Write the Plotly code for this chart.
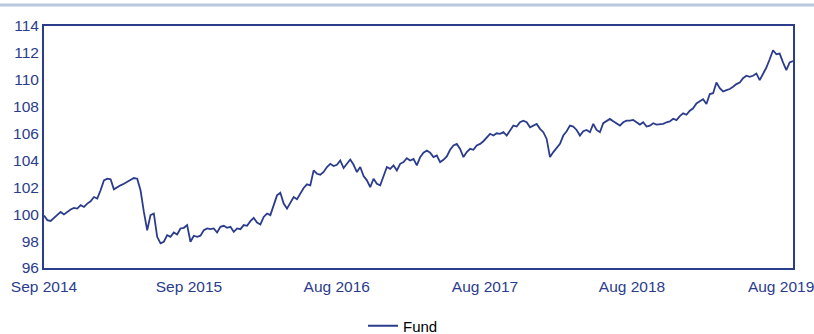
import pandas as pd
import plotly.graph_objects as go

# Fund value series (indexed, start ~100), sampled evenly from Sep 2014 to Aug 2019
fund_values = [
    # Sep 2014 - Jun 2015
    99.90, 99.56, 99.50, 99.73, 99.93, 100.17, 99.98, 100.17, 100.35, 100.47,
    100.42, 100.67, 100.54, 100.79, 100.96, 101.28, 101.16, 101.78, 102.52, 102.64,
    102.60, 101.85, 102.02, 102.15, 102.27, 102.40, 102.52, 102.69, 102.64, 101.78,
    100.17, 98.81, 99.93, 100.05, 98.32, 97.83, 97.95,
    # Jun 2015 - Jun 2016
    98.44, 98.32, 98.64, 98.49, 98.94, 98.99, 99.19, 97.95, 98.40, 98.32,
    98.40, 98.81, 98.94, 98.89, 98.94, 98.64, 99.06, 99.14, 98.99, 99.06,
    98.69, 98.94, 98.89, 99.19, 99.14, 99.48, 99.73, 99.38, 99.24, 99.80,
    100.05, 99.93, 100.67, 101.40, 101.60, 100.79, 100.42, 100.91,
    # Jun 2016 - Jun 2017
    101.28, 101.12, 101.53, 101.95, 102.22, 102.15, 103.26, 103.01, 102.94, 103.14,
    103.51, 103.75, 103.58, 103.68, 104.00, 103.43, 103.75, 104.07, 103.68, 103.14,
    103.51, 102.84, 102.52, 102.02, 102.64, 102.27, 102.15, 102.77, 103.51, 103.38,
    103.63, 103.26, 103.75, 103.88, 104.17, 104.00, 104.12, 103.63,
    # Jun 2017 - Jun 2018
    104.25, 104.57, 104.74, 104.57, 104.25, 104.37, 103.88, 104.05, 104.30, 104.79,
    105.11, 105.23, 104.86, 104.25, 104.62, 104.86, 104.79, 105.11, 105.23, 105.43,
    105.73, 105.98, 105.85, 106.02, 105.98, 106.10, 105.85, 106.27, 106.59, 106.52,
    106.84, 106.96, 106.84, 106.47, 106.59, 106.72, 106.35,
    # Feb 2018 - Feb 2019
    106.10, 105.60, 104.25, 104.62, 104.94, 105.23, 105.85, 106.17, 106.59, 106.52,
    106.27, 105.85, 106.17, 106.27, 106.10, 106.72, 106.27, 106.10, 106.77, 106.96,
    107.09, 106.91, 106.77, 106.59, 106.84, 106.96, 106.96, 107.01, 106.84, 106.67,
    106.84, 106.52, 106.59, 106.77, 106.67, 106.72, 106.72, 106.84,
    # Feb 2019 - Aug 2019
    106.90, 107.10, 107.00, 107.30, 107.50, 107.40, 107.70, 107.88, 108.24, 108.40,
    108.55, 108.20, 108.94, 109.00, 109.80, 109.38, 109.13, 109.23, 109.31, 109.48,
    109.68, 109.80, 110.12, 110.30, 110.22, 110.30, 110.47, 109.98, 110.47, 110.91,
    111.53, 112.20, 111.90, 111.95, 111.29, 110.72, 111.29, 111.40,
]

start_date = "2014-09-01"
end_date = "2019-08-30"
fund_dates = pd.date_range(start_date, end_date, periods=len(fund_values))

tick_dates = ["2014-09-01", "2015-08-20", "2016-08-14", "2017-08-10", "2018-08-03", "2019-08-01"]
tick_labels = ["Sep 2014", "Sep 2015", "Aug 2016", "Aug 2017", "Aug 2018", "Aug 2019"]
y_ticks = [96, 98, 100, 102, 104, 106, 108, 110, 112, 114]

navy = "#2b3c8c"
font_family = "Arial, Liberation Sans, sans-serif"

fig = go.Figure()
fig.add_trace(go.Scatter(
    x=fund_dates, y=fund_values, mode="lines", name="Fund",
    line=dict(color=navy, width=1.8),
))

axis_style = dict(
    showgrid=False, zeroline=False, showline=True, linecolor=navy,
    linewidth=2, mirror=True, ticks="", automargin=False,
    ticklabeloverflow="allow",
    tickfont=dict(family=font_family, size=15.5, color=navy),
)

fig.update_xaxes(type="date", range=[start_date, end_date],
                 tickvals=tick_dates, ticktext=tick_labels,
                 ticklabelstandoff=3, **axis_style)
fig.update_yaxes(range=[96, 114], tickvals=y_ticks, **axis_style)

# thin header rule across the full page width
fig.add_shape(type="line", xref="paper", yref="paper",
              x0=-44 / 749, x1=(814 - 44) / 749, y0=1.0868, y1=1.0868,
              line=dict(color="#b8c8dd", width=3))

fig.update_layout(
    width=814, height=334,
    margin=dict(l=44, r=21, t=26, b=66),
    paper_bgcolor="white", plot_bgcolor="white",
    showlegend=True,
    legend=dict(orientation="h", xref="container", yref="container",
                x=363 / 814, xanchor="left", y=8 / 334, yanchor="middle",
                font=dict(family=font_family, size=15, color="black"),
                bgcolor="rgba(0,0,0,0)"),
)

fig.write_html("out.html")
